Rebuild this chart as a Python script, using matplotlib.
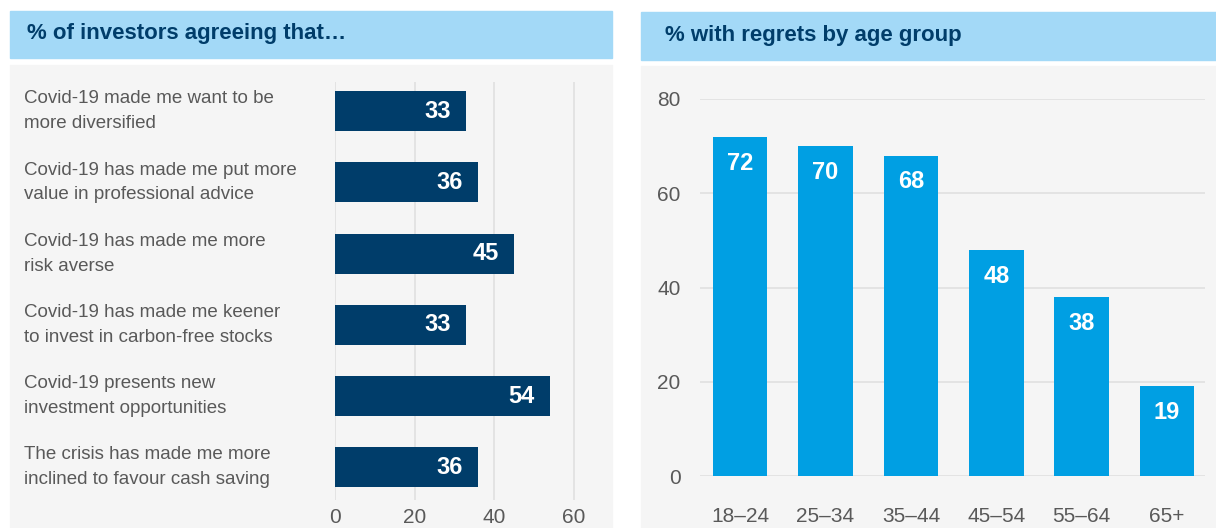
import matplotlib
matplotlib.use("Agg")
import matplotlib.pyplot as plt
from matplotlib.patches import Rectangle
from matplotlib.transforms import blended_transform_factory

plt.rcParams['font.family'] = ['Liberation Sans Narrow', 'Liberation Sans', 'DejaVu Sans']

left_title = "% of investors agreeing that…"
left_cats = [
    "Covid-19 made me want to be\nmore diversified",
    "Covid-19 has made me put more\nvalue in professional advice",
    "Covid-19 has made me more\nrisk averse",
    "Covid-19 has made me keener\nto invest in carbon-free stocks",
    "Covid-19 presents new\ninvestment opportunities",
    "The crisis has made me more\ninclined to favour cash saving",
]
left_vals = [33, 36, 45, 33, 54, 36]
left_ticks = [0, 20, 40, 60]

right_title = "% with regrets by age group"
right_cats = ["18–24", "25–34", "35–44", "45–54", "55–64", "65+"]
right_vals = [72, 70, 68, 48, 38, 19]
right_ticks = [0, 20, 40, 60, 80]

NAVY = "#003D6A"
BLUE = "#009FE3"
HEAD = "#A3D9F7"
PANEL = "#F5F5F5"
GRID = "#E0E0E0"
TXT = "#595959"

W, H = 1216, 528
fig = plt.figure(figsize=(W / 100, H / 100), dpi=100)
fig.patch.set_facecolor("white")

def box(x0, y0, x1, y1, color):
    fig.patches.append(Rectangle((x0 / W, 1 - y1 / H), (x1 - x0) / W, (y1 - y0) / H,
                                 transform=fig.transFigure, color=color, zorder=-5))

# headers and panels
box(10, 11, 612, 58, HEAD)
box(10, 65, 612, 528, PANEL)
box(641, 12, 1216, 60, HEAD)
box(641, 66, 1216, 528, PANEL)
fig.text(27 / W, 1 - 33 / H, left_title, fontsize=16, fontweight="bold", color=NAVY,
         va="center", ha="left")
fig.text(665 / W, 1 - 36 / H, right_title, fontsize=16, fontweight="bold", color=NAVY,
         va="center", ha="left")

def axes_px(x0, y0, x1, y1):
    return fig.add_axes([x0 / W, 1 - y1 / H, (x1 - x0) / W, (y1 - y0) / H])

# left chart
axl = axes_px(335, 82, 594, 500)
axl.set_facecolor("none")
pos = list(range(len(left_vals)))
axl.barh(pos, left_vals, height=0.56, color=NAVY, zorder=3)
axl.set_xlim(0, 65)
axl.set_ylim(5.46, -0.41)
axl.set_xticks(left_ticks)
axl.set_xticklabels([str(t) for t in left_ticks], fontsize=15, color=TXT)
axl.set_yticks([])
axl.grid(axis="x", color=GRID, linewidth=1.2, zorder=0)
axl.tick_params(axis="x", length=0, pad=6)
for s in axl.spines.values():
    s.set_visible(False)
for p, v in zip(pos, left_vals):
    axl.annotate(str(v), xy=(v, p), xytext=(-11, 0), textcoords="offset points",
                 ha="right", va="center", color="white",
                 fontsize=17, fontweight="bold", family=["Liberation Sans", "DejaVu Sans"], zorder=4)
tr = blended_transform_factory(fig.transFigure, axl.transData)
for p, c in zip(pos, left_cats):
    axl.text(24 / W, p, c, transform=tr, va="center", ha="left",
             fontsize=13.5, color=TXT, linespacing=1.6)

# right chart
axr = axes_px(700, 99, 1205, 476)
axr.set_facecolor("none")
pos2 = list(range(len(right_vals)))
axr.bar(pos2, right_vals, width=0.64, color=BLUE, zorder=3)
axr.set_ylim(0, 80)
axr.set_xlim(-0.47, 5.445)
axr.set_yticks(right_ticks)
axr.set_yticklabels([str(t) for t in right_ticks], fontsize=15, color=TXT)
axr.set_xticks(pos2)
axr.set_xticklabels(right_cats, fontsize=15, color=TXT)
axr.grid(axis="y", color=GRID, linewidth=1.2, zorder=0)
axr.tick_params(axis="both", length=0)
axr.tick_params(axis="x", pad=22)
axr.tick_params(axis="y", pad=14)
for s in axr.spines.values():
    s.set_visible(False)
for p, v in zip(pos2, right_vals):
    axr.annotate(str(v), xy=(p, v), xytext=(0, -19), textcoords="offset points",
                 ha="center", va="center", color="white", fontsize=17, fontweight="bold",
                 family=["Liberation Sans", "DejaVu Sans"], zorder=4)

fig.savefig("out.png", dpi=100, facecolor=fig.get_facecolor())
